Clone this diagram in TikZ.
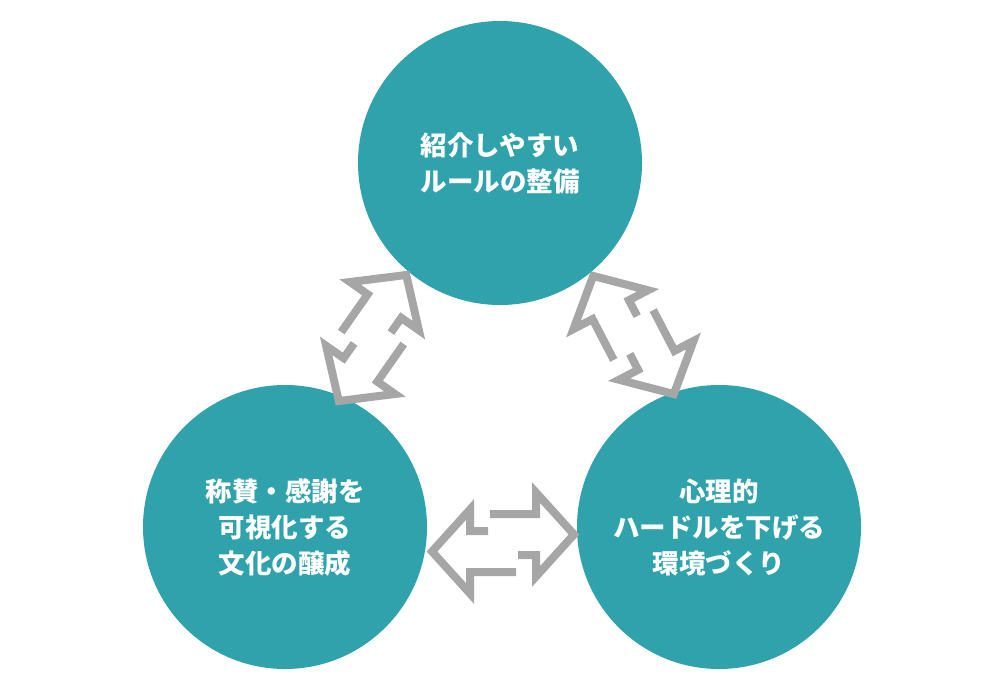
\documentclass[tikz,border=0pt]{standalone}
\usepackage{fontspec}
\newfontfamily\jpfont{Noto Sans CJK JP}
\usepackage{tikz}
\usetikzlibrary{calc}

\definecolor{circleteal}{HTML}{2FA2AC}
\definecolor{arrowgray}{HTML}{A6A6A6}

\tikzset{
  bubble/.style={circle,fill=circleteal,minimum size=284pt,inner sep=0pt,
    text=white,align=center,font=\jpfont\bfseries\fontsize{26.5}{36}\selectfont},
  swapline/.style={draw=arrowgray,line width=8pt,line join=miter,line cap=butt}
}

% two hollow arrows pointing opposite ways
\newcommand{\swaparrow}[2]{%
  \begin{scope}[shift={#1},rotate=#2]
    \draw[swapline] (-13,29) -- (33,29) -- (33,50.5) -- (71,8.5) -- (33,-33.5) -- (33,-12) -- (15,-12);
    \draw[swapline] (13,-29) -- (-33,-29) -- (-33,-50.5) -- (-71,-8.5) -- (-33,33.5) -- (-33,12) -- (-15,12);
  \end{scope}}

\begin{document}
\begin{tikzpicture}[x=1pt,y=1pt]
\useasboundingbox (0,0) rectangle (1000,-676);

\node[bubble] (rule) at (500,-163) {紹介しやすい\\ルールの整備};

\node[bubble] (praise) at (285,-527) {称賛・感謝を\\可視化する\\文化の醸成};

\node[bubble] (safety) at (719,-527) {心理的\\ハードルを下げる\\環境づくり};

% arrows between the circles
\swaparrow{(372.5,-338)}{55}
\swaparrow{(633.5,-335)}{117.5}
\swaparrow{(503,-543)}{0}

\end{tikzpicture}
\end{document}
